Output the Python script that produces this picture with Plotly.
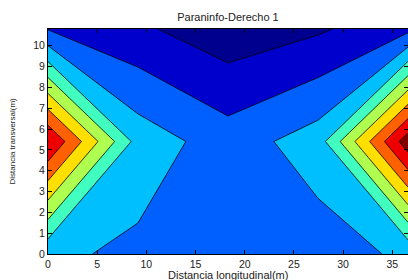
import plotly.graph_objects as go

# Grid (metres)
x_long = [0, 9.15, 18.3, 27.45, 36.6]
y_trans = [0, 5.4, 10.8]

# Field values (contour-level units), one row per y
z_row_y0 = [3.22, 2.775, 2.3, 2.51, 3.2]
z_row_y54 = [9.02, 3.59, 2.48, 3.5, 9.6]
z_row_y108 = [1.95, 1.185, 0.36, 0.86, 1.74]

level_start = 1
level_end = 9
level_step = 1

band_colors = ["#00008F", "#0000CC", "#0060FF", "#00BFFF", "#40FFBF",
               "#AFFF50", "#FFDF00", "#FF6000", "#EE0000", "#800000"]

x_ticks = [0, 5, 10, 15, 20, 25, 30, 35]
y_ticks = list(range(0, 11))

title_text = "Paraninfo-Derecho 1"
x_title = "Distancia longitudinal(m)"
y_title = "Distancia transversal(m)"

W, H = 408, 280

# stepped colorscale so each band gets one flat colour
n = len(band_colors)
cs = []
for k, c in enumerate(band_colors):
    lo = max(0.0, (k - 0.5) / (n - 1))
    hi = min(1.0, (k + 0.5) / (n - 1))
    cs.append([lo, c])
    cs.append([hi, c])

fig = go.Figure(go.Contour(
    x=x_long, y=y_trans, z=[z_row_y0, z_row_y54, z_row_y108],
    colorscale=cs, showscale=False,
    contours=dict(start=level_start, end=level_end, size=level_step, coloring="fill"),
    line=dict(color="black", width=0.8, smoothing=0),
    hoverinfo="skip",
))

font_family = "Liberation Sans, Arial, sans-serif"
txt = "#222"
axis_common = dict(showline=True, linecolor="black", linewidth=1, mirror="ticks",
                   ticks="inside", ticklen=4, tickcolor="black", tickwidth=1,
                   showgrid=False, zeroline=False, automargin=False,
                   tickfont=dict(family=font_family, size=10.5, color=txt))

fig.update_layout(
    width=W, height=H,
    margin=dict(l=48, r=0, t=29, b=26),
    paper_bgcolor="white", plot_bgcolor="white",
    title=dict(text=title_text, x=0.5, xref="paper", xanchor="center",
               y=1 - 17 / H, yref="container", yanchor="middle",
               font=dict(family=font_family, size=11, color=txt)),
    xaxis=dict(range=[0, 36.6], tickvals=x_ticks, **axis_common),
    yaxis=dict(range=[0, 10.8], tickvals=y_ticks, **axis_common),
    annotations=[
        dict(text=x_title, xref="paper", x=0.5, xanchor="center",
             yref="paper", y=-(274.5 - 254) / (H - 29 - 26), yanchor="middle",
             showarrow=False, font=dict(family=font_family, size=11, color=txt)),
        dict(text=y_title, textangle=-90, xref="paper", x=-(48 - 12) / (W - 48),
             xanchor="center", yref="paper", y=0.5, yanchor="middle",
             showarrow=False, font=dict(family=font_family, size=8, color=txt)),
    ],
)

fig.write_html("out.html", config={"displayModeBar": False},
               post_script="document.body.style.margin='0';document.body.style.overflow='hidden';")
